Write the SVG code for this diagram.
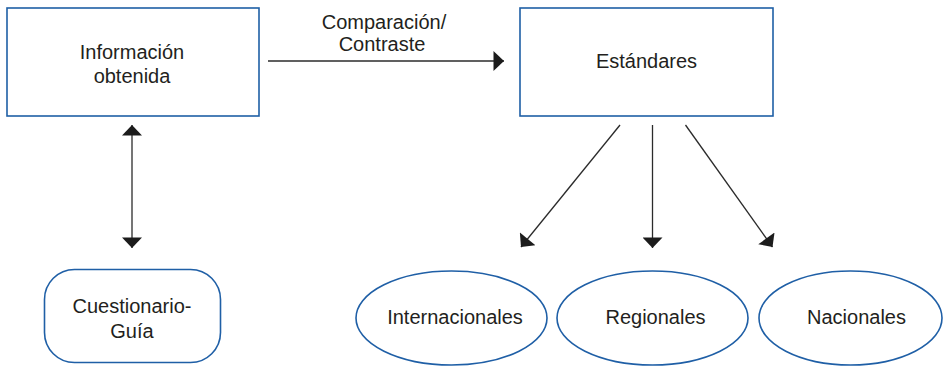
<svg xmlns="http://www.w3.org/2000/svg" width="944" height="366" viewBox="0 0 944 366">
<style>
.box{fill:#fff;stroke:#1f5fa6;stroke-width:1.6}
.lbl{font-family:"Liberation Sans",Arial,sans-serif;font-size:20px;fill:#231f20;text-anchor:middle}
.con{stroke:#2b2b2b;stroke-width:1.3;fill:none}
</style>
<defs>
<marker id="ah" markerUnits="userSpaceOnUse" markerWidth="12" markerHeight="20" viewBox="0 0 10 19" refX="10" refY="9.5" orient="auto-start-reverse">
<path d="M0,0 L10,9.5 L0,19 Z" fill="#1c1c1c"/>
</marker>
</defs>
<rect width="944" height="366" fill="#fff"/>
<g id="connectors">
<line class="con" x1="268" y1="61" x2="504" y2="61" marker-end="url(#ah)"/>
<line class="con" x1="132" y1="125" x2="132" y2="248" marker-start="url(#ah)" marker-end="url(#ah)"/>
<line class="con" x1="620" y1="125" x2="521" y2="247" marker-end="url(#ah)"/>
<line class="con" x1="652.5" y1="125" x2="652.5" y2="248" marker-end="url(#ah)"/>
<line class="con" x1="685.5" y1="125" x2="772.5" y2="247" marker-end="url(#ah)"/>
<text class="lbl" x="384" y="29">Comparación/</text>
<text class="lbl" x="382" y="51">Contraste</text>
</g>
<g id="informacion">
<rect class="box" x="7" y="8" width="252" height="108"/>
<text class="lbl" x="132" y="59">Información</text>
<text class="lbl" x="132" y="83">obtenida</text>
</g>
<g id="estandares">
<rect class="box" x="520" y="8" width="253" height="108"/>
<text class="lbl" x="646.5" y="68">Estándares</text>
</g>
<g id="cuestionario">
<rect class="box" x="44.5" y="269.5" width="176" height="93" rx="30" ry="30"/>
<text class="lbl" x="132" y="313">Cuestionario-</text>
<text class="lbl" x="132" y="338">Guía</text>
</g>
<g id="internacionales">
<ellipse class="box" cx="451.5" cy="318" rx="95.5" ry="47"/>
<text class="lbl" x="455" y="324">Internacionales</text>
</g>
<g id="regionales">
<ellipse class="box" cx="652.5" cy="318" rx="95.5" ry="47"/>
<text class="lbl" x="655.5" y="324">Regionales</text>
</g>
<g id="nacionales">
<ellipse class="box" cx="850.5" cy="318" rx="91.5" ry="47"/>
<text class="lbl" x="856.5" y="324">Nacionales</text>
</g>
</svg>
